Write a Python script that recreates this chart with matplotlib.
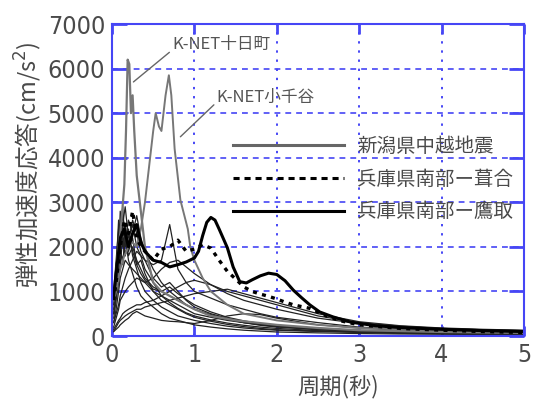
import numpy as np
import matplotlib
matplotlib.use("Agg")
import matplotlib.pyplot as plt
from matplotlib import font_manager
from matplotlib.lines import Line2D

plt.rcParams['font.family'] = ['Noto Sans CJK JP', 'DejaVu Sans']

# shared period grid for the Niigata Chuetsu records (s)
per = [0.02, 0.05, 0.08, 0.1, 0.13, 0.16, 0.2, 0.25, 0.3, 0.35, 0.4, 0.5, 0.6, 0.7,
       0.8, 0.9, 1.0, 1.2, 1.4, 1.6, 1.8, 2.0, 2.5, 3.0, 3.5, 4.0, 4.5, 5.0]

niigata = [
    [700, 1500, 2600, 2200, 2900, 2000, 2400, 1800, 1500, 1200, 1000, 800, 650, 550,
     450, 400, 350, 280, 220, 180, 150, 130, 100, 80, 60, 50, 45, 40],
    [500, 900, 1800, 2800, 2000, 2500, 1900, 2200, 1600, 1700, 1400, 1000, 800, 700,
     600, 500, 420, 330, 260, 210, 170, 140, 110, 90, 70, 60, 50, 45],
    [400, 800, 1200, 1600, 2200, 1800, 2100, 2600, 2300, 1900, 1700, 1300, 1100, 1200,
     1000, 800, 650, 500, 400, 320, 260, 220, 160, 120, 90, 75, 65, 55],
    [300, 500, 700, 900, 1100, 1300, 1500, 1700, 1900, 1800, 1700, 1600, 1700, 2500,
     1500, 1200, 1000, 850, 700, 600, 500, 420, 300, 200, 150, 120, 100, 80],
    [200, 400, 600, 800, 900, 1000, 1100, 1200, 1300, 1250, 1200, 1300, 1500, 1650,
     1700, 1550, 1400, 1150, 950, 800, 700, 600, 400, 280, 200, 150, 120, 100],
    [150, 250, 350, 400, 500, 550, 600, 650, 700, 700, 750, 800, 900, 1000,
     1100, 1200, 1250, 1150, 1000, 900, 800, 700, 450, 300, 220, 170, 140, 120],
    [100, 200, 300, 350, 400, 450, 500, 550, 600, 600, 650, 700, 750, 800,
     850, 900, 950, 1000, 1050, 950, 850, 750, 500, 320, 230, 180, 150, 130],
    [100, 150, 200, 250, 300, 350, 400, 500, 550, 500, 450, 400, 350, 330,
     320, 300, 280, 350, 450, 500, 480, 400, 250, 180, 130, 100, 80, 70],
    [300, 600, 1000, 1300, 1500, 1700, 1600, 1500, 1400, 1300, 1200, 1000, 900, 800,
     700, 600, 500, 420, 350, 300, 260, 230, 160, 110, 80, 60, 50, 40],
    [1000, 1700, 2400, 2000, 1600, 2200, 1700, 1400, 1100, 900, 800, 650, 500, 400,
     350, 300, 250, 200, 160, 130, 110, 90, 70, 55, 45, 40, 35, 30],
    [600, 1100, 1900, 2400, 2700, 2300, 1800, 2000, 1700, 1500, 1300, 1100, 1000, 900,
     800, 700, 600, 480, 380, 300, 240, 200, 140, 100, 75, 60, 50, 45],
    [800, 1300, 2100, 1700, 2500, 2900, 2200, 2500, 2000, 1800, 1500, 1200, 900, 750,
     620, 520, 450, 360, 290, 240, 200, 170, 120, 90, 70, 55, 45, 40],
    [500, 1000, 1500, 1900, 1700, 2100, 2600, 2300, 2700, 2200, 1900, 1500, 1200, 1000,
     850, 700, 600, 460, 370, 300, 250, 210, 150, 110, 85, 65, 55, 45],
    [900, 1600, 2000, 2500, 2100, 1800, 2300, 1900, 1600, 1400, 1250, 1050, 1000, 1100,
     950, 820, 700, 540, 420, 340, 280, 230, 160, 120, 90, 70, 60, 50],
]

# K-NET Tokamachi
per_tok = [0.02, 0.05, 0.08, 0.1, 0.12, 0.15, 0.17, 0.19, 0.21, 0.23, 0.25, 0.27, 0.3,
           0.35, 0.4, 0.45, 0.5, 0.6, 0.7, 0.8, 0.9, 1.0, 1.2, 1.5, 2.0, 2.5, 3.0, 4.0, 5.0]
sa_tok = [900, 1300, 2000, 2300, 2700, 3400, 4600, 6200, 6100, 5000, 5400, 4600, 3600,
          2800, 2000, 1600, 1200, 1000, 900, 800, 700, 600, 450, 350, 250, 180, 130, 90, 70]

# K-NET Ojiya
per_oji = [0.02, 0.05, 0.1, 0.15, 0.2, 0.25, 0.3, 0.35, 0.4, 0.45, 0.5, 0.53, 0.57, 0.6,
           0.65, 0.69, 0.72, 0.76, 0.83, 0.92, 0.95, 1.0, 1.1, 1.2, 1.4, 1.6, 2.0, 2.5,
           3.0, 4.0, 5.0]
sa_oji = [800, 1000, 1500, 1800, 2000, 2100, 2000, 2400, 3000, 3800, 4600, 5000, 4700,
          4600, 5400, 5850, 5400, 4200, 3050, 2400, 2000, 1700, 1300, 1000, 700, 500,
          350, 250, 180, 120, 90]

# Hyogo-ken Nanbu, Fukiai
per_fuk = [0.02, 0.05, 0.1, 0.15, 0.2, 0.25, 0.3, 0.35, 0.4, 0.5, 0.6, 0.7, 0.8, 0.9,
           1.0, 1.1, 1.2, 1.3, 1.4, 1.5, 1.6, 1.7, 1.8, 1.9, 2.0, 2.1, 2.2, 2.3, 2.4,
           2.6, 2.8, 3.0, 3.5, 4.0, 4.5, 5.0]
sa_fuk = [800, 1200, 2000, 2600, 2300, 2800, 2200, 2000, 1900, 1700, 1950, 2000, 2150,
          1900, 1950, 2050, 1970, 1700, 1450, 1280, 1100, 1000, 940, 890, 830, 760, 700,
          660, 620, 450, 330, 250, 170, 130, 100, 80]

# Hyogo-ken Nanbu, Takatori
per_tak = [0.02, 0.05, 0.1, 0.15, 0.2, 0.25, 0.3, 0.35, 0.4, 0.5, 0.6, 0.7, 0.8, 0.9,
           1.0, 1.05, 1.1, 1.15, 1.2, 1.25, 1.3, 1.4, 1.47, 1.55, 1.63, 1.7, 1.8, 1.9,
           2.0, 2.1, 2.2, 2.3, 2.4, 2.52, 2.68, 2.9, 3.2, 3.5, 4.0, 4.5, 5.0]
sa_tak = [900, 1400, 2200, 2400, 2000, 2300, 2500, 2100, 1900, 1700, 1650, 1550, 1600,
          1660, 1750, 1900, 2250, 2550, 2660, 2600, 2400, 1980, 1550, 1220, 1190, 1260,
          1350, 1410, 1380, 1240, 1030, 860, 700, 540, 430, 310, 230, 190, 150, 120, 100]

labels = ['新潟県中越地震', '兵庫県南部ー葺合', '兵庫県南部ー鷹取']

blue = '#4646f5'
txt = '#4a4a4a'

# narrow face for the tick numbers, if one is around
num_font = 'DejaVu Sans'
num_stretch = 'normal'
for name in ['Liberation Sans Narrow', 'DejaVu Sans Condensed']:
    try:
        font_manager.findfont(name, fallback_to_default=False)
        num_font = name
        break
    except ValueError:
        pass
if num_font == 'DejaVu Sans':
    num_stretch = 'condensed'

fig = plt.figure(figsize=(5.33, 4.01), dpi=100)
ax = fig.add_axes([112/533, 1-336/401, 412/533, 312/401])

for s in niigata:
    ax.plot(per, s, color='#222222', lw=0.9)
ax.plot(per_tok, sa_tok, color='#777777', lw=1.6)
ax.plot(per_oji, sa_oji, color='#777777', lw=1.4)
ax.plot(per_fuk, sa_fuk, color='black', lw=2.4, linestyle=(0, (1.2, 1.6)))
ax.plot(per_tak, sa_tak, color='black', lw=2.2)

ax.set_xlim(0, 5)
ax.set_ylim(0, 7000)
ax.set_xticks(range(0, 6))
ax.set_yticks(range(0, 7001, 1000))

ax.grid(axis='y', color=blue, lw=1.2, linestyle=(0, (3.5, 3)))
ax.grid(axis='x', color=blue, lw=1.4, linestyle=(0, (1.2, 3.5)))
ax.set_axisbelow(True)
for sp in ax.spines.values():
    sp.set_color(blue)
    sp.set_linewidth(1.5)
ax.tick_params(axis='y', direction='in', length=11, width=2, color=blue,
               left=True, right=True, labelsize=18, labelcolor=txt, pad=5)
ax.tick_params(axis='x', direction='in', length=7, width=2, color=blue,
               top=True, bottom=True, labelsize=18, labelcolor=txt, pad=5)
for lab in ax.get_xticklabels() + ax.get_yticklabels():
    lab.set_family(num_font)
    lab.set_fontstretch(num_stretch)

ax.set_ylabel('弾性加速度応答(cm/s$^2$)', fontsize=17, color=txt, va='center')
ax.yaxis.set_label_coords(-(112 - 28) / 412, (336 - 165) / 312)
ax.set_xlabel('周期(秒)', fontsize=16, color=txt)
ax.xaxis.set_label_coords((338 - 112) / 412, -(387 - 336) / 312)
ax.xaxis.label.set_va('center')

ax.annotate('K-NET十日町', xy=(0.26, 5700), xytext=(0.73, 6530), fontsize=12,
            color='#555555', va='center', ha='left',
            arrowprops=dict(arrowstyle='-', color='#666666', lw=1,
                            shrinkA=0, shrinkB=0, relpos=(0, 0.2)))
ax.annotate('K-NET小千谷', xy=(0.83, 4470), xytext=(1.27, 5360), fontsize=12,
            color='#555555', va='center', ha='left',
            arrowprops=dict(arrowstyle='-', color='#666666', lw=1,
                            shrinkA=0, shrinkB=0, relpos=(0, 0.2)))

handles = [Line2D([], [], color='#666666', lw=2.2),
           Line2D([], [], color='black', lw=2.2, linestyle=(0, (2, 1.6))),
           Line2D([], [], color='black', lw=2.2)]
leg = ax.legend(handles, labels, loc='upper left', frameon=False,
                bbox_to_anchor=(233/533, 1-136/401), bbox_transform=fig.transFigure,
                fontsize=14, handlelength=5.7, handletextpad=0.7, labelspacing=0.6,
                borderpad=0, borderaxespad=0)
for t in leg.get_texts():
    t.set_color(txt)

fig.savefig('out.png', dpi=100)
